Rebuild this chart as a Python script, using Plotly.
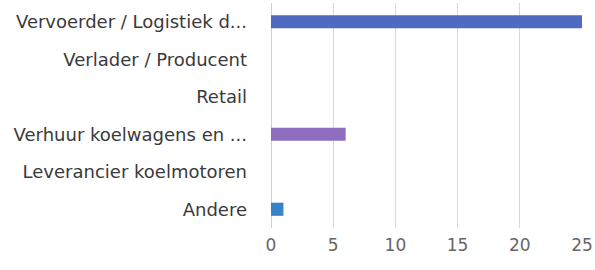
import plotly.graph_objects as go

categories = ["Vervoerder / Logistiek d...", "Verlader / Producent", "Retail",
              "Verhuur koelwagens en ...", "Leverancier koelmotoren", "Andere"]
values = [25, 0, 0, 6, 0, 1]
colors = ["#4F6ABE", "#5B8AD0", "#6FA0D8", "#8E6EBE", "#7A7FC4", "#3882C8"]
x_ticks = [0, 5, 10, 15, 20, 25]

fig = go.Figure(go.Bar(
    y=categories, x=values, orientation="h",
    marker=dict(color=colors, line=dict(width=0)),
    width=0.35,
))

fig.update_layout(
    width=595, height=270,
    margin=dict(l=271, r=13, t=3, b=42),
    paper_bgcolor="white", plot_bgcolor="white",
    font=dict(family="DejaVu Sans", size=18, color="#3a3a3a"),
    showlegend=False,
    bargap=0.65,
)
fig.update_xaxes(range=[0, 25], tickvals=x_ticks, showgrid=True, gridcolor="#d9d9d9",
                 gridwidth=1, zeroline=True, zerolinecolor="#d0d0d0", zerolinewidth=1,
                 tickfont=dict(size=17, color="#666666"), showline=False,
                 ticklabelstandoff=5, automargin=False, fixedrange=True)
fig.update_yaxes(autorange="reversed", showgrid=False, ticklabelstandoff=23,
                 tickfont=dict(size=18, color="#3a3a3a"), showline=False,
                 automargin=False, fixedrange=True)

fig.write_html("out.html", config={"displayModeBar": False},
               post_script="document.body.style.margin='0';")
